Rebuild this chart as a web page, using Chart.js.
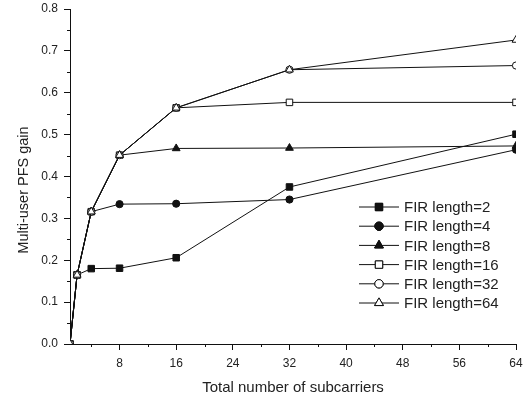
<!DOCTYPE html>
<html>
<head>
<meta charset="utf-8">
<script src="https://cdn.jsdelivr.net/npm/chart.js@4"></script>
<style>
  html, body { margin: 0; padding: 0; background: #fff; }
  #wrap { width: 530px; height: 399px; position: relative; }
</style>
</head>
<body>
<div id="wrap"><canvas id="c"></canvas></div>
<script>
// data
const subcarriers = [1, 2, 4, 8, 16, 32, 64];
const fir2  = [0, 0.165, 0.180, 0.181, 0.206, 0.375, 0.501];
const fir4  = [0, 0.165, 0.316, 0.334, 0.335, 0.345, 0.464];
const fir8  = [0, 0.165, 0.316, 0.451, 0.467, 0.468, 0.473];
const fir16 = [0, 0.165, 0.316, 0.451, 0.564, 0.577, 0.577];
const fir32 = [0, 0.165, 0.316, 0.451, 0.564, 0.655, 0.665];
const fir64 = [0, 0.165, 0.316, 0.451, 0.564, 0.655, 0.726];
const labels = ['FIR length=2', 'FIR length=4', 'FIR length=8', 'FIR length=16', 'FIR length=32', 'FIR length=64'];
const xTicks = [8, 16, 24, 32, 40, 48, 56, 64];
const yTicks = [0.0, 0.1, 0.2, 0.3, 0.4, 0.5, 0.6, 0.7, 0.8];

const FONT = "'Liberation Sans', Arial, Helvetica, sans-serif";
const INK = '#111';

const styles = [
  { pointStyle: 'rect', fill: INK, r: 4.6 },
  { pointStyle: 'circle', fill: INK, r: 3.6 },
  { pointStyle: 'triangle', fill: INK, r: 4.5 },
  { pointStyle: 'rect', fill: '#fff', r: 4.6 },
  { pointStyle: 'circle', fill: '#fff', r: 3.6 },
  { pointStyle: 'triangle', fill: '#fff', r: 4.5 }
];

const series = [fir2, fir4, fir8, fir16, fir32, fir64];
const datasets = series.map((s, i) => ({
  label: labels[i],
  data: s.map((v, k) => ({ x: subcarriers[k], y: v })),
  borderColor: INK,
  borderWidth: 1,
  pointStyle: styles[i].pointStyle,
  pointRadius: styles[i].r,
  pointBackgroundColor: styles[i].fill,
  pointBorderColor: INK,
  pointBorderWidth: 1,
  tension: 0,
  fill: false,
  order: series.length - i
}));

// legend inside the plot + y title + short minor ticks
const extras = {
  id: 'extras',
  afterDraw(chart) {
    const ctx = chart.ctx;
    const xs = chart.scales.x, ys = chart.scales.y;
    ctx.save();

    // minor ticks (shorter than the major ones)
    ctx.strokeStyle = INK;
    ctx.lineWidth = 1;
    ctx.beginPath();
    for (let v = 4; v < 64; v += 8) {
      const px = Math.round(xs.getPixelForValue(v)) + 0.5;
      ctx.moveTo(px, xs.top);
      ctx.lineTo(px, xs.top + 3);
    }
    for (let k = 1; k < 16; k += 2) {
      const py = Math.round(ys.getPixelForValue(k * 0.05)) + 0.5;
      ctx.moveTo(ys.right, py);
      ctx.lineTo(ys.right - 3, py);
    }
    ctx.stroke();

    // y title
    ctx.save();
    ctx.translate(24, 190);
    ctx.rotate(-Math.PI / 2);
    ctx.fillStyle = '#222';
    ctx.font = '14.5px ' + FONT;
    ctx.textAlign = 'center';
    ctx.textBaseline = 'middle';
    ctx.fillText('Multi-user PFS gain', 0, 0);
    ctx.restore();

    // legend
    datasets.forEach((d, i) => {
      const y = 207 + i * 19.2;
      ctx.strokeStyle = INK;
      ctx.lineWidth = 1;
      ctx.beginPath();
      ctx.moveTo(359, y);
      ctx.lineTo(399, y);
      ctx.stroke();
      ctx.fillStyle = d.pointBackgroundColor;
      Chart.helpers.drawPoint(ctx, { pointStyle: d.pointStyle, radius: d.pointRadius + 0.6, borderWidth: 1 }, 379, y);
      ctx.fill();
      ctx.stroke();
      ctx.fillStyle = '#222';
      ctx.font = '15px ' + FONT;
      ctx.textAlign = 'left';
      ctx.textBaseline = 'middle';
      ctx.fillText(d.label, 404, y + 1);
    });
    ctx.restore();
  }
};

new Chart(document.getElementById('c'), {
  type: 'line',
  data: { datasets },
  plugins: [extras],
  options: {
    responsive: true,
    maintainAspectRatio: false,
    animation: false,
    layout: { padding: { top: 9, right: 14, left: 0, bottom: 0 } },
    plugins: { legend: { display: false }, tooltip: { enabled: false } },
    scales: {
      x: {
        type: 'linear',
        min: 1,
        max: 64,
        afterBuildTicks(scale) {
          scale.ticks = xTicks.map(v => ({ value: v }));
        },
        afterFit(scale) {
          scale.height = 55;
          scale.paddingLeft = 0;
          scale.paddingRight = 0;
        },
        ticks: {
          autoSkip: false,
          maxRotation: 0,
          padding: 6,
          color: '#222',
          font: { family: FONT, size: 12 }
        },
        grid: { drawOnChartArea: false, tickLength: 6, color: INK, tickColor: INK },
        border: { color: INK, width: 1 },
        title: {
          display: true,
          text: 'Total number of subcarriers',
          color: '#222',
          font: { family: FONT, size: 15 },
          padding: { top: 4, bottom: 2 }
        }
      },
      y: {
        min: 0,
        max: 0.8,
        afterBuildTicks(scale) {
          scale.ticks = yTicks.map(v => ({ value: v }));
        },
        afterFit(scale) {
          scale.width = 70;
          scale.paddingTop = 0;
          scale.paddingBottom = 0;
        },
        ticks: {
          autoSkip: false,
          padding: 6,
          color: '#222',
          font: { family: FONT, size: 12 },
          callback: v => v.toFixed(1)
        },
        grid: { drawOnChartArea: false, tickLength: 6, color: INK, tickColor: INK },
        border: { color: INK, width: 1 }
      }
    }
  }
});
</script>
</body>
</html>
